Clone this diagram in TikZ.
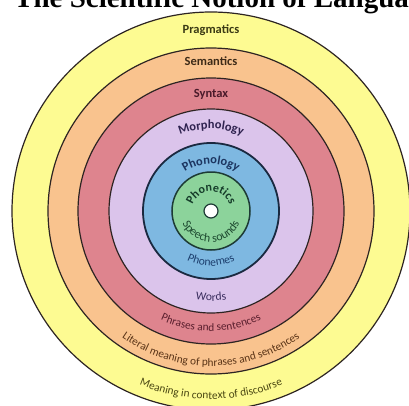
\documentclass[tikz,border=0pt]{standalone}
\usepackage{fontspec}
\setmainfont{Liberation Serif}
\newfontfamily\labfont{Carlito}
\usetikzlibrary{decorations.text}
\definecolor{cyel}{RGB}{253,251,146}
\definecolor{corg}{RGB}{249,195,142}
\definecolor{cred}{RGB}{222,132,142}
\definecolor{cpur}{RGB}{219,196,235}
\definecolor{cblu}{RGB}{126,184,225}
\definecolor{cgrn}{RGB}{140,211,155}
\definecolor{ringline}{RGB}{45,36,34}
\definecolor{bluline}{RGB}{26,41,64}
\definecolor{grnline}{RGB}{29,59,53}
\definecolor{tprag}{RGB}{59,58,20}
\definecolor{tsem}{RGB}{61,42,23}
\definecolor{tsyn}{RGB}{74,26,42}
\definecolor{tmor}{RGB}{47,35,80}
\definecolor{tpho}{RGB}{28,53,96}
\definecolor{tnet}{RGB}{22,61,42}
\definecolor{tspe}{RGB}{30,74,48}
\definecolor{tpme}{RGB}{29,63,110}
\definecolor{twor}{RGB}{58,46,94}
\definecolor{tphr}{RGB}{90,31,46}
\definecolor{tlit}{RGB}{90,52,23}
\definecolor{tmea}{RGB}{74,71,18}
\tikzset{
  ring/.style={draw=ringline, line width=1.2pt},
  toplab/.style={font=\labfont\bfseries\fontsize{12.5}{14}\selectfont, inner sep=0pt},
}
\begin{document}
\begin{tikzpicture}[x=1pt,y=1pt]
\useasboundingbox (-211,-194) rectangle (198,211);
\clip (-211,-194) rectangle (198,211);
\fill[white] (-211,-194) rectangle (198,211);
\node[anchor=base west, inner sep=0pt, font=\bfseries\fontsize{29}{32}\selectfont] (title) at (-197,204) {The Scientific Notion of Langua};
% rings
\filldraw[ring, fill=cyel] (0,0) circle (199pt);
\filldraw[ring, fill=corg] (0,0) circle (163pt);
\filldraw[ring, fill=cred] (0,0) circle (133pt);
\filldraw[ring, fill=cpur] (0,0) circle (102pt);
\filldraw[draw=bluline, line width=1.8pt, fill=cblu] (0,0) circle (68pt);
\filldraw[draw=grnline, line width=1.5pt, fill=cgrn] (0,0) circle (39pt);
\filldraw[draw=grnline, line width=1.2pt, fill=white] (0,0) circle (7pt);
% straight top labels
\node[toplab, text=tprag] (prag) at (0,181) {Pragmatics};
\node[toplab, text=tsem] (sem) at (0,150) {Semantics};
\node[toplab, text=tsyn] (syn) at (0,117) {Syntax};
% arched top labels
\path[decorate, decoration={text along path, text align=center, text color=tmor,
  text={|\labfont\bfseries\fontsize{12.5}{14}\selectfont|Morphology}}]
  (150:82pt) arc[start angle=150, end angle=30, radius=82pt];
\path[decorate, decoration={text along path, text align=center, text color=tpho,
  text={|\labfont\bfseries\fontsize{12.5}{14}\selectfont|Phonology}}]
  (160:47pt) arc[start angle=160, end angle=20, radius=47pt];
\path[decorate, decoration={text along path, text align=center, text color=tnet,
  text={|\labfont\bfseries\fontsize{12}{14}\selectfont|Phonetics}}]
  (179:19.5pt) arc[start angle=179, end angle=1, radius=19.5pt];
% bottom labels
\path[decorate, decoration={text along path, text align=center, text color=tspe,
  text={|\labfont\fontsize{12}{14}\selectfont|Speech sounds}}]
  (181:31pt) arc[start angle=181, end angle=359, radius=31pt];
\path[decorate, decoration={text along path, text align=center, text color=tpme,
  text={|\labfont\fontsize{11.6}{13}\selectfont|Phonemes}}]
  (200:55pt) arc[start angle=200, end angle=340, radius=55pt];
\path[decorate, decoration={text along path, text align=center, text color=twor,
  text={|\labfont\fontsize{11.6}{13}\selectfont|Words}}]
  (220:90pt) arc[start angle=220, end angle=320, radius=90pt];
\path[decorate, decoration={text along path, text align=center, text color=tphr,
  text={|\labfont\fontsize{11.3}{13}\selectfont|Phrases and sentences}}]
  (210:120pt) arc[start angle=210, end angle=330, radius=120pt];
\path[decorate, decoration={text along path, text align=center, text color=tlit,
  text={|\labfont\fontsize{11.3}{13}\selectfont|Literal meaning of phrases and sentences}}]
  (200:155pt) arc[start angle=200, end angle=340, radius=155pt];
\path[decorate, decoration={text along path, text align=center, text color=tmea,
  text={|\labfont\fontsize{11.3}{13}\selectfont|Meaning in context of discourse}}]
  (210:188pt) arc[start angle=210, end angle=330, radius=188pt];
\end{tikzpicture}
\end{document}
